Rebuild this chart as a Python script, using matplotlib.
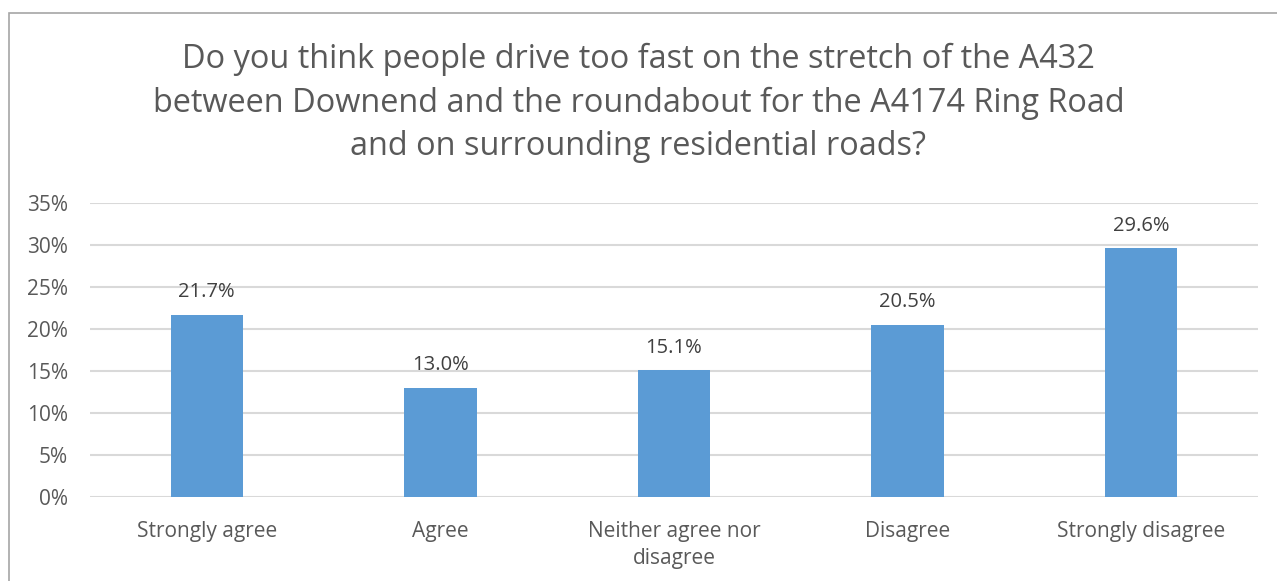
import matplotlib
matplotlib.use('Agg')
import matplotlib.pyplot as plt
from matplotlib.patches import Rectangle

categories = ['Strongly agree', 'Agree', 'Neither agree nor\ndisagree', 'Disagree', 'Strongly disagree']
values = [21.7, 13.0, 15.1, 20.5, 29.6]
yticks = [0, 5, 10, 15, 20, 25, 30, 35]
title = ('Do you think people drive too fast on the stretch of the A432\n'
         'between Downend and the roundabout for the A4174 Ring Road\n'
         'and on surrounding residential roads?')

plt.rcParams['font.family'] = ['Open Sans', 'DejaVu Sans']

fig = plt.figure(figsize=(12.77, 5.81), dpi=100)
# chart frame (only left and top edges fall inside the image)
fig.patches.append(Rectangle((9 / 1277, -0.1), 1.2, 1 - 13 / 581 + 0.1,
                             transform=fig.transFigure, fill=False,
                             edgecolor='#A6A6A6', linewidth=1.2))

ax = fig.add_axes([90 / 1277, 1 - 497 / 581, (1258 - 90) / 1277, (497 - 203) / 581])
x = range(len(categories))
bars = ax.bar(x, values, width=0.31, color='#5B9BD5', zorder=3)
for b, v in zip(bars, values):
    ax.annotate(f'{v:.1f}%', (b.get_x() + b.get_width() / 2, v), xytext=(0, 9),
                textcoords='offset points', ha='center', va='bottom',
                fontsize=14.5, color='#404040')

ax.set_xlim(-0.5, len(categories) - 0.5)
ax.set_ylim(0, 35)
ax.set_yticks(yticks)
ax.set_yticklabels([f'{t}%' for t in yticks])
ax.set_xticks(list(x))
ax.set_xticklabels(categories, linespacing=1.4)
ax.tick_params(axis='both', length=0, labelsize=15, labelcolor='#595959')
ax.tick_params(axis='x', pad=17)
ax.tick_params(axis='y', pad=16)
ax.grid(axis='y', color='#D9D9D9', linewidth=1.5, zorder=0)
for s in ax.spines.values():
    s.set_visible(False)

fig.text(0.5, 1 - 103 / 581, title, ha='center', va='center', fontsize=23.4,
         color='#595959', linespacing=1.4)

fig.savefig('out.png', dpi=100)
